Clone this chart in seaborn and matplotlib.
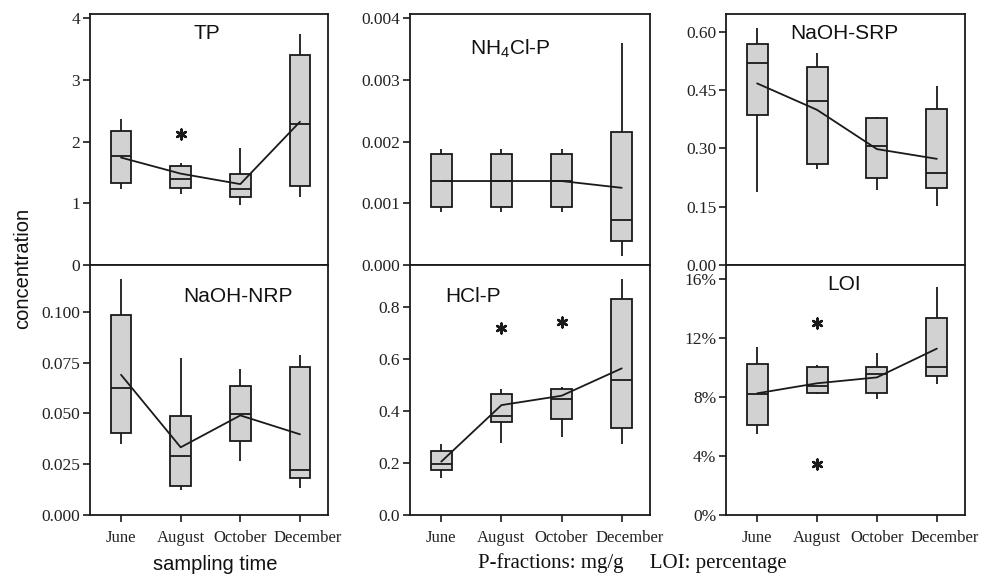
import numpy as np
import pandas as pd
import matplotlib
matplotlib.use("Agg")
import matplotlib.pyplot as plt
import seaborn as sns
from matplotlib.ticker import FixedLocator, FuncFormatter
from matplotlib.transforms import ScaledTranslation

sns.set_theme(style="ticks")
plt.rcParams["font.family"] = ["Liberation Serif", "DejaVu Serif"]
plt.rcParams["mathtext.fontset"] = "custom"
plt.rcParams["mathtext.rm"] = "Liberation Sans"
plt.rcParams["mathtext.it"] = "Liberation Sans"

months = ["June", "August", "October", "December"]

# five-number summaries per month: [low whisker, Q1, median, Q3, high whisker]
tp_stats = [[1.23, 1.335, 1.76, 2.17, 2.36],
            [1.15, 1.25, 1.39, 1.60, 1.65],
            [0.97, 1.10, 1.23, 1.47, 1.89],
            [1.10, 1.28, 2.28, 3.40, 3.74]]
tp_mean = [1.74, 1.48, 1.31, 2.32]
tp_out_month = ["August"]
tp_out_val = [2.12]

nh4_stats = [[0.00086, 0.000935, 0.00136, 0.001805, 0.00188],
             [0.00086, 0.000935, 0.00136, 0.001805, 0.00188],
             [0.00086, 0.000935, 0.00136, 0.001805, 0.00188],
             [0.000146, 0.000395, 0.00073, 0.00215, 0.00359]]
nh4_mean = [0.00136, 0.00136, 0.00136, 0.00125]

srp_stats = [[0.189, 0.385, 0.519, 0.569, 0.610],
             [0.247, 0.261, 0.421, 0.510, 0.544],
             [0.193, 0.223, 0.307, 0.378, 0.381],
             [0.153, 0.198, 0.237, 0.402, 0.460]]
srp_mean = [0.467, 0.399, 0.298, 0.273]

nrp_stats = [[0.0348, 0.0403, 0.0626, 0.0984, 0.1159],
             [0.0123, 0.0141, 0.0292, 0.0485, 0.0770],
             [0.0267, 0.0364, 0.0498, 0.0634, 0.0716],
             [0.0131, 0.0180, 0.0221, 0.0730, 0.0787]]
nrp_mean = [0.069, 0.0333, 0.049, 0.0397]

hcl_stats = [[0.141, 0.173, 0.195, 0.247, 0.273],
             [0.278, 0.357, 0.379, 0.465, 0.484],
             [0.301, 0.370, 0.445, 0.484, 0.490],
             [0.271, 0.333, 0.520, 0.829, 0.905]]
hcl_mean = [0.205, 0.422, 0.458, 0.563]
hcl_out_month = ["August", "October"]
hcl_out_val = [0.717, 0.741]

loi_stats = [[0.0547, 0.0612, 0.0820, 0.1026, 0.1137],
             [0.0820, 0.0829, 0.0875, 0.1006, 0.1015],
             [0.0784, 0.0829, 0.0954, 0.1006, 0.1096],
             [0.0886, 0.0940, 0.1006, 0.1333, 0.1543]]
loi_mean = [0.0825, 0.0893, 0.0933, 0.1128]
loi_out_month = ["August", "August"]
loi_out_val = [0.1299, 0.0346]

panels = [
    dict(name="TP", stats=tp_stats, mean=tp_mean, om=tp_out_month, ov=tp_out_val,
         ylim=(0, 4.065), ticks=[0, 1, 2, 3, 4], fmt=lambda v, p: f"{v:.0f}",
         title_xy=(0.49, 0.922)),
    dict(name="NH$_4$Cl-P", stats=nh4_stats, mean=nh4_mean, om=[], ov=[],
         ylim=(0, 0.004065), ticks=[0, 0.001, 0.002, 0.003, 0.004], fmt=lambda v, p: f"{v:.3f}",
         title_xy=(0.417, 0.862)),
    dict(name="NaOH-SRP", stats=srp_stats, mean=srp_mean, om=[], ov=[],
         ylim=(0, 0.6455), ticks=[0, 0.15, 0.30, 0.45, 0.60], fmt=lambda v, p: f"{v:.2f}",
         title_xy=(0.494, 0.924)),
    dict(name="NaOH-NRP", stats=nrp_stats, mean=nrp_mean, om=[], ov=[],
         ylim=(0, 0.123), ticks=[0, 0.025, 0.05, 0.075, 0.1], fmt=lambda v, p: f"{v:.3f}",
         title_xy=(0.622, 0.872)),
    dict(name="HCl-P", stats=hcl_stats, mean=hcl_mean, om=hcl_out_month, ov=hcl_out_val,
         ylim=(0, 0.96), ticks=[0, 0.2, 0.4, 0.6, 0.8], fmt=lambda v, p: f"{v:.1f}",
         title_xy=(0.262, 0.872)),
    dict(name="LOI", stats=loi_stats, mean=loi_mean, om=loi_out_month, ov=loi_out_val,
         ylim=(0, 0.1695), ticks=[0, 0.04, 0.08, 0.12, 0.16], fmt=lambda v, p: f"{v*100:.0f}%",
         title_xy=(0.494, 0.924)),
]

W, H = 990, 577
fig = plt.figure(figsize=(W / 100, H / 100), dpi=100)
cols = [(90, 328), (410, 650), (726, 965)]
rows = [(14, 265), (265, 515)]

box_face = "#d2d2d2"
edge = "#1a1a1a"

for i, p in enumerate(panels):
    r, c = divmod(i, 3)
    l, rgt = cols[c]
    t, b = rows[r]
    ax = fig.add_axes([l / W, 1 - b / H, (rgt - l) / W, (b - t) / H])
    df = pd.DataFrame({
        "month": [m for m, s in zip(months, p["stats"]) for _ in s],
        "value": [v for s in p["stats"] for v in s],
    })
    sns.boxplot(data=df, x="month", y="value", order=months, whis=(0, 100),
                width=0.35, color=box_face, linecolor=edge, linewidth=1.3,
                saturation=1, showfliers=False, showcaps=False, ax=ax,
                medianprops=dict(color=edge, linewidth=1.3))
    sns.pointplot(x=months, y=p["mean"], order=months, color=edge, markers="",
                  linewidth=1.3, errorbar=None, ax=ax)
    if p["om"]:
        sns.stripplot(x=p["om"], y=p["ov"], order=months, jitter=False,
                      marker=(6, 2, 0), size=7, color=edge, edgecolor=edge,
                      linewidth=1.8, ax=ax)
    ax.set_xlim(-0.52, 3.47)
    ax.set_ylim(*p["ylim"])
    ax.yaxis.set_major_locator(FixedLocator(p["ticks"]))
    ax.yaxis.set_major_formatter(FuncFormatter(p["fmt"]))
    ax.set_xlabel("")
    ax.set_ylabel("")
    for s in ax.spines.values():
        s.set_visible(True)
        s.set_linewidth(1.3)
        s.set_color(edge)
    ax.tick_params(axis="y", direction="out", length=5, width=1.2, color=edge,
                   labelsize=12.5, pad=2, labelcolor="#222222")
    if r == 0:
        ax.tick_params(axis="x", bottom=False, labelbottom=False)
    else:
        ax.tick_params(axis="x", direction="out", length=5, width=1.2, color=edge,
                       labelsize=12, pad=6, labelcolor="#222222")
        labs = ax.get_xticklabels()
        last = labs[-1]
        last.set_transform(last.get_transform() +
                           ScaledTranslation(8 / 100, 0, fig.dpi_scale_trans))
    ax.text(p["title_xy"][0], p["title_xy"][1], p["name"], transform=ax.transAxes,
            ha="center", va="center", fontsize=15, family=["Liberation Sans", "DejaVu Sans"],
            color="#111111")

fig.text(23 / W, 1 - 268 / H, "concentration", rotation=90, ha="center", va="center",
         fontsize=14.5, family=["Liberation Sans", "DejaVu Sans"], color="#111111")
fig.text(215 / W, 1 - 564 / H, "sampling time", ha="center", va="center",
         fontsize=14.5, family=["Liberation Sans", "DejaVu Sans"], color="#111111")
fig.text(632 / W, 1 - 563 / H, "P-fractions: mg/g     LOI: percentage", ha="center",
         va="center", fontsize=15, color="#111111")

fig.savefig("out.png", dpi=100)
